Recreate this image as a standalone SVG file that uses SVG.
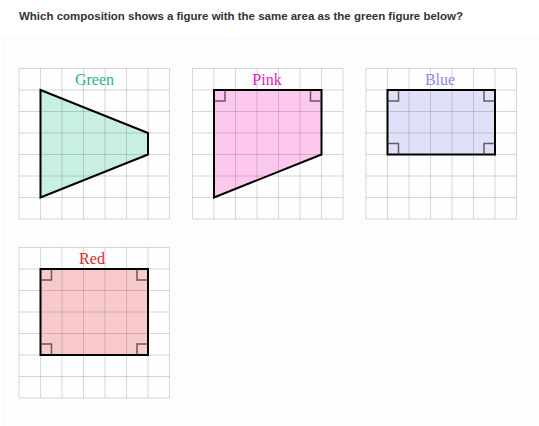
<svg xmlns="http://www.w3.org/2000/svg" xmlns:xlink="http://www.w3.org/1999/xlink" width="539" height="426" viewBox="0 0 539 426">
<style>
.title{font-family:"Liberation Sans",Arial,sans-serif;font-weight:bold;font-size:11px;fill:#333}
.lbl{font-family:"Liberation Serif","Times New Roman",serif;font-size:16px;text-anchor:middle}
.gl{stroke:#000;stroke-opacity:0.15;stroke-width:1;fill:none}
.edge{fill:none;stroke:#000;stroke-width:2;stroke-linejoin:miter}
.mark{fill:none;stroke:#333;stroke-opacity:0.75;stroke-width:1.5}
</style>
<defs>
<g id="grid" class="gl">
<path d="M0,0V150.5M21.5,0V150.5M43,0V150.5M64.5,0V150.5M86,0V150.5M107.5,0V150.5M129,0V150.5M150.5,0V150.5"/>
<path d="M0,0H150.5M0,21.5H150.5M0,43H150.5M0,64.5H150.5M0,86H150.5M0,107.5H150.5M0,129H150.5M0,150.5H150.5"/>
</g>
</defs>
<rect x="0" y="0" width="539" height="426" fill="#fff"/>
<rect x="3" y="38" width="540" height="390" fill="#fdfdfd" stroke="#f8f8f8" stroke-width="1"/>
<text class="title" x="19" y="19.5" textLength="444" lengthAdjust="spacingAndGlyphs">Which composition shows a figure with the same area as the green figure below?</text>

<g id="green">
<polygon points="40.5,90 148,133 148,154.5 40.5,197.5" fill="#c9efe0"/>
<use xlink:href="#grid" href="#grid" transform="translate(19,68.5)"/>
<polygon class="edge" points="40.5,90 148,133 148,154.5 40.5,197.5"/>
<text class="lbl" x="94.5" y="84.5" fill="#1fb886">Green</text>
</g>

<g id="pink">
<polygon points="214,90 321.5,90 321.5,154.5 214,197.5" fill="#fdc8ee"/>
<use xlink:href="#grid" href="#grid" transform="translate(192.5,68.5)"/>
<polygon class="edge" points="214,90 321.5,90 321.5,154.5 214,197.5"/>
<path class="mark" d="M214,101H225V90M321.5,101H310.5V90"/>
<text class="lbl" x="267" y="84.5" fill="#e01fb0">Pink</text>
</g>

<g id="blue">
<rect x="387.5" y="90" width="107.5" height="64.5" fill="#e0e1f9"/>
<use xlink:href="#grid" href="#grid" transform="translate(366,68.5)"/>
<rect class="edge" x="387.5" y="90" width="107.5" height="64.5"/>
<path class="mark" d="M387.5,101H398.5V90M495,101H484V90M387.5,143.5H398.5V154.5M495,143.5H484V154.5"/>
<text class="lbl" x="440" y="84.5" fill="#8c8ce0">Blue</text>
</g>

<g id="red">
<rect x="40.5" y="269" width="107.5" height="86" fill="#f9caca"/>
<use xlink:href="#grid" href="#grid" transform="translate(19,247.5)"/>
<rect class="edge" x="40.5" y="269" width="107.5" height="86"/>
<path class="mark" d="M40.5,280H51.5V269M148,280H137V269M40.5,344H51.5V355M148,344H137V355"/>
<text class="lbl" x="92" y="263.5" fill="#d42a2a">Red</text>
</g>

<g id="connectors"></g>
</svg>
